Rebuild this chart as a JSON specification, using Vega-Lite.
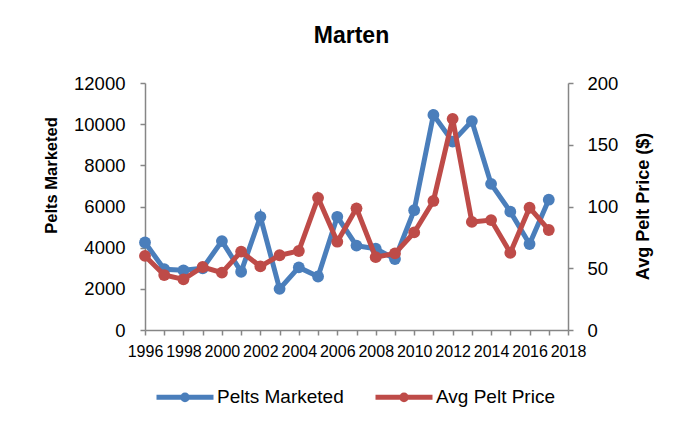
{
  "$schema": "https://vega.github.io/schema/vega-lite/v6.json",
  "autosize": "none",
  "width": 423,
  "height": 247,
  "padding": {"left": 145, "top": 83, "right": 125, "bottom": 99},
  "background": "white",
  "config": {
    "font": "Liberation Sans",
    "view": {"stroke": null},
    "axis": {
      "grid": false,
      "domainColor": "#868686",
      "domainWidth": 1.5,
      "tickColor": "#868686",
      "tickWidth": 1.5,
      "tickSize": 5,
      "labelColor": "#000000",
      "labelFontSize": 16,
      "labelFont": "Liberation Sans",
      "titleFont": "Liberation Sans",
      "titleFontSize": 16.5,
      "titleFontWeight": "bold",
      "titleColor": "#000000"
    }
  },
  "title": {
    "text": "Marten",
    "fontSize": 23,
    "fontWeight": "bold",
    "font": "Liberation Sans",
    "color": "#000000",
    "offset": 26,
    "dx": -5,
    "anchor": "middle"
  },
  "data": {
    "values": [
      {"year": 1996, "series": "Pelts Marketed", "value": 4250},
      {"year": 1997, "series": "Pelts Marketed", "value": 2950},
      {"year": 1998, "series": "Pelts Marketed", "value": 2900},
      {"year": 1999, "series": "Pelts Marketed", "value": 3000},
      {"year": 2000, "series": "Pelts Marketed", "value": 4320},
      {"year": 2001, "series": "Pelts Marketed", "value": 2830},
      {"year": 2002, "series": "Pelts Marketed", "value": 5500},
      {"year": 2003, "series": "Pelts Marketed", "value": 2000},
      {"year": 2004, "series": "Pelts Marketed", "value": 3040},
      {"year": 2005, "series": "Pelts Marketed", "value": 2600},
      {"year": 2006, "series": "Pelts Marketed", "value": 5500},
      {"year": 2007, "series": "Pelts Marketed", "value": 4100},
      {"year": 2008, "series": "Pelts Marketed", "value": 3950},
      {"year": 2009, "series": "Pelts Marketed", "value": 3450},
      {"year": 2010, "series": "Pelts Marketed", "value": 5820},
      {"year": 2011, "series": "Pelts Marketed", "value": 10450},
      {"year": 2012, "series": "Pelts Marketed", "value": 9150},
      {"year": 2013, "series": "Pelts Marketed", "value": 10150},
      {"year": 2014, "series": "Pelts Marketed", "value": 7100},
      {"year": 2015, "series": "Pelts Marketed", "value": 5750},
      {"year": 2016, "series": "Pelts Marketed", "value": 4180},
      {"year": 2017, "series": "Pelts Marketed", "value": 6330},
      {"year": 1996, "series": "Avg Pelt Price", "value": 60},
      {"year": 1997, "series": "Avg Pelt Price", "value": 44.5},
      {"year": 1998, "series": "Avg Pelt Price", "value": 41},
      {"year": 1999, "series": "Avg Pelt Price", "value": 51},
      {"year": 2000, "series": "Avg Pelt Price", "value": 46.5},
      {"year": 2001, "series": "Avg Pelt Price", "value": 63.5},
      {"year": 2002, "series": "Avg Pelt Price", "value": 51.5},
      {"year": 2003, "series": "Avg Pelt Price", "value": 60.5},
      {"year": 2004, "series": "Avg Pelt Price", "value": 64},
      {"year": 2005, "series": "Avg Pelt Price", "value": 107},
      {"year": 2006, "series": "Avg Pelt Price", "value": 71.5},
      {"year": 2007, "series": "Avg Pelt Price", "value": 98.5},
      {"year": 2008, "series": "Avg Pelt Price", "value": 59},
      {"year": 2009, "series": "Avg Pelt Price", "value": 62},
      {"year": 2010, "series": "Avg Pelt Price", "value": 79},
      {"year": 2011, "series": "Avg Pelt Price", "value": 104.5},
      {"year": 2012, "series": "Avg Pelt Price", "value": 171},
      {"year": 2013, "series": "Avg Pelt Price", "value": 87.5},
      {"year": 2014, "series": "Avg Pelt Price", "value": 89},
      {"year": 2015, "series": "Avg Pelt Price", "value": 62.5},
      {"year": 2016, "series": "Avg Pelt Price", "value": 99},
      {"year": 2017, "series": "Avg Pelt Price", "value": 81}
    ]
  },
  "encoding": {
    "x": {
      "field": "year",
      "type": "quantitative",
      "scale": {"domain": [1996, 2018], "nice": false, "zero": false},
      "axis": {
        "title": null,
        "values": [1996, 1997, 1998, 1999, 2000, 2001, 2002, 2003, 2004, 2005, 2006, 2007, 2008, 2009, 2010, 2011, 2012, 2013, 2014, 2015, 2016, 2017, 2018],
        "labelExpr": "datum.value % 2 == 0 ? datum.value : ''",
        "labelOverlap": false,
        "labelFlush": false,
        "labelPadding": 8
      }
    },
    "color": {
      "field": "series",
      "type": "nominal",
      "scale": {"domain": ["Pelts Marketed", "Avg Pelt Price"], "range": ["#4A7EBB", "#BE4B48"]},
      "legend": {
        "title": null,
        "orient": "none",
        "direction": "horizontal",
        "legendX": 9,
        "legendY": 283,
        "labelFontSize": 19,
        "labelFont": "Liberation Sans",
        "labelColor": "#000000",
        "labelOffset": 1,
        "labelLimit": 0,
        "columnPadding": 21,
        "symbolType": "M-1,0L1,0M-0.08,0A0.08,0.08,0,1,1,0.08,0A0.08,0.08,0,1,1,-0.08,0Z",
        "symbolSize": 3249,
        "symbolStrokeWidth": 5
      }
    }
  },
  "layer": [
    {
      "transform": [{"filter": "datum.series == 'Pelts Marketed'"}],
      "mark": {"type": "line", "strokeWidth": 5, "point": {"filled": true, "size": 140, "opacity": 1}},
      "encoding": {
        "y": {
          "field": "value",
          "type": "quantitative",
          "scale": {"domain": [0, 12000], "nice": false},
          "axis": {
            "title": "Pelts Marketed",
            "orient": "left",
            "values": [0, 2000, 4000, 6000, 8000, 10000, 12000],
            "format": "d",
            "labelFontSize": 18.5,
            "labelPadding": 15,
            "titleAngle": 270,
            "titleBaseline": "middle",
            "titleX": -94,
            "titleY": 92
          }
        }
      }
    },
    {
      "transform": [{"filter": "datum.series == 'Avg Pelt Price'"}],
      "mark": {"type": "line", "strokeWidth": 5, "point": {"filled": true, "size": 140, "opacity": 1}},
      "encoding": {
        "y": {
          "field": "value",
          "type": "quantitative",
          "scale": {"domain": [0, 200], "nice": false},
          "axis": {
            "title": "Avg Pelt Price ($)",
            "orient": "right",
            "values": [0, 50, 100, 150, 200],
            "labelFontSize": 18.5,
            "labelPadding": 14,
            "titleFontSize": 18,
            "titleAngle": 270,
            "titleBaseline": "middle",
            "titleX": 75,
            "titleY": 123
          }
        }
      }
    }
  ],
  "resolve": {"scale": {"y": "independent"}}
}
